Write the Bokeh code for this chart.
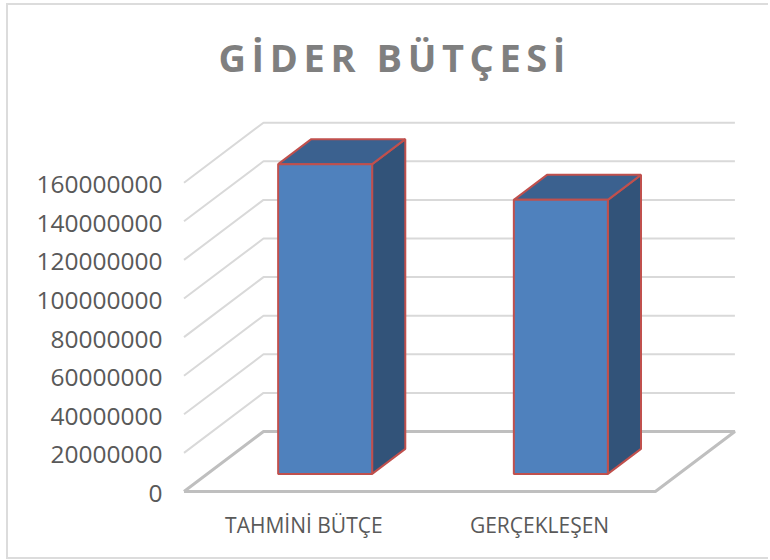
from bokeh.plotting import figure
from bokeh.models import FixedTicker, Range1d, LinearAxis
from bokeh.core.properties import value
from bokeh.embed import file_html
from bokeh.resources import INLINE

title_text = "GİDER BÜTÇESİ"
categories = ["TAHMİNİ BÜTÇE", "GERÇEKLEŞEN"]
values = [160500000, 142000000]
y_ticks = [0, 20000000, 40000000, 60000000, 80000000, 100000000, 120000000, 140000000, 160000000]

# canvas geometry (page px)
ORG_X, ORG_Y = 8, 5
W, H = 762, 556
F_L, F_R, F_T, F_B = 176, 745, 100, 506
PX_X = 235.7                 # px per category
PX_Y = 38.6 / 20000000       # px per value unit
X0_PAGE, Y0_PAGE = 183.5, 491  # page position of category edge -0.5 / value 0
DX = 79.5 / PX_X             # full floor depth, in category units
DY = 60 / PX_Y               # full floor depth, in value units
Z0, Z1 = 0.293, 0.71
BAR_W = 94 / PX_X
LABEL_SHIFT_Y = 2 / PX_Y     # tick labels sit a little lower than their grid position
LABEL_SHIFT_X = 2 / PX_X

x0, x1 = -0.5 - (X0_PAGE - F_L) / PX_X, -0.5 + (F_R - X0_PAGE) / PX_X
y0, y1 = -(F_B - Y0_PAGE) / PX_Y, (Y0_PAGE - F_T) / PX_Y

p = figure(width=W, height=H, output_backend="svg", toolbar_location=None,
           x_range=Range1d(x0, x1), y_range=Range1d(y0, y1),
           x_axis_type=None, y_axis_type=None,
           min_border_left=F_L - ORG_X, min_border_right=ORG_X + W - F_R,
           min_border_top=F_T - ORG_Y, min_border_bottom=ORG_Y + H - F_B,
           background_fill_color="white", border_fill_color="white")
p.extra_x_ranges = {"labels": Range1d(x0 - LABEL_SHIFT_X, x1 - LABEL_SHIFT_X)}
p.extra_y_ranges = {"labels": Range1d(y0 + LABEL_SHIFT_Y, y1 + LABEL_SHIFT_Y)}
p.styles = {"position": "absolute", "left": "6px", "top": "3px",
            "border-left": "2px solid #dcdcdc", "border-top": "2px solid #dcdcdc",
            "border-bottom": "2px solid #dcdcdc"}
p.outline_line_color = None

ax = LinearAxis(y_range_name="labels", ticker=FixedTicker(ticks=y_ticks),
                major_label_overrides={v: str(v) for v in y_ticks})
ax.axis_line_color = None
ax.major_tick_line_color = None
ax.minor_tick_line_color = None
ax.major_tick_in = ax.major_tick_out = 0
ax.major_label_standoff = 14
ax.major_label_text_font = "Open Sans"
ax.major_label_text_font_size = "24.5px"
ax.major_label_text_color = "#595959"
p.add_layout(ax, "left")

bx = LinearAxis(x_range_name="labels", ticker=FixedTicker(ticks=[0, 1]),
                major_label_overrides=dict(zip([0, 1], categories)))
bx.axis_line_color = None
bx.major_tick_line_color = None
bx.minor_tick_line_color = None
bx.major_tick_in = bx.major_tick_out = 0
bx.major_label_standoff = 4
bx.major_label_text_font = "Open Sans"
bx.major_label_text_font_size = "21px"
bx.major_label_text_color = "#595959"
p.add_layout(bx, "below")

# walls
xs, ys = [], []
for v in y_ticks[1:]:
    xs.append([-0.5, -0.5 + DX, 1.5 + DX])
    ys.append([v, v + DY, v + DY])
p.multi_line(xs, ys, line_color="#d9d9d9", line_width=2)
# floor
p.line([-0.5, -0.5 + DX, 1.5 + DX, 1.5, -0.5], [0, DY, DY, 0, 0],
       line_color="#bfbfbf", line_width=3)

# bars
front_c, top_c, side_c, edge = "#4f81bd", "#3b618f", "#325379", "#c0504d"
for i, val in enumerate(values):
    zx0, zx1 = Z0 * DX, Z1 * DX
    zy0, zy1 = Z0 * DY, Z1 * DY
    lf, rf = i - BAR_W / 2 + zx0, i + BAR_W / 2 + zx0
    d = zx1 - zx0
    b0, t0 = zy0, val + zy0
    b1, t1 = zy1, val + zy1
    p.patch([rf, rf + d, rf + d, rf], [b0, b1, t1, t0], fill_color=side_c,
            line_color=edge, line_width=2)
    p.patch([lf, rf, rf + d, lf + d], [t0, t0, t1, t1], fill_color=top_c,
            line_color=edge, line_width=2)
    p.patch([lf, rf, rf, lf], [b0, b0, t0, t0], fill_color=front_c,
            line_color=edge, line_width=2)

# title on its own small transparent figure, so letter spacing reaches only its text
t = figure(width=380, height=60, output_backend="svg", toolbar_location=None,
           x_range=Range1d(0, 380), y_range=Range1d(0, 60),
           min_border=0, x_axis_type=None, y_axis_type=None,
           background_fill_color=None, border_fill_color=None)
t.outline_line_color = None
t.grid.visible = False
t.styles = {"position": "absolute", "left": "200px", "top": "26px", "letter-spacing": "5.6px"}
t.text(x=[18], y=[30], text=[title_text], text_font=value("Open Sans"), text_font_size="38px",
       text_font_style="bold", text_color="#7f7f7f", text_baseline="middle")

open("out.html", "w").write(file_html([p, t], INLINE))
